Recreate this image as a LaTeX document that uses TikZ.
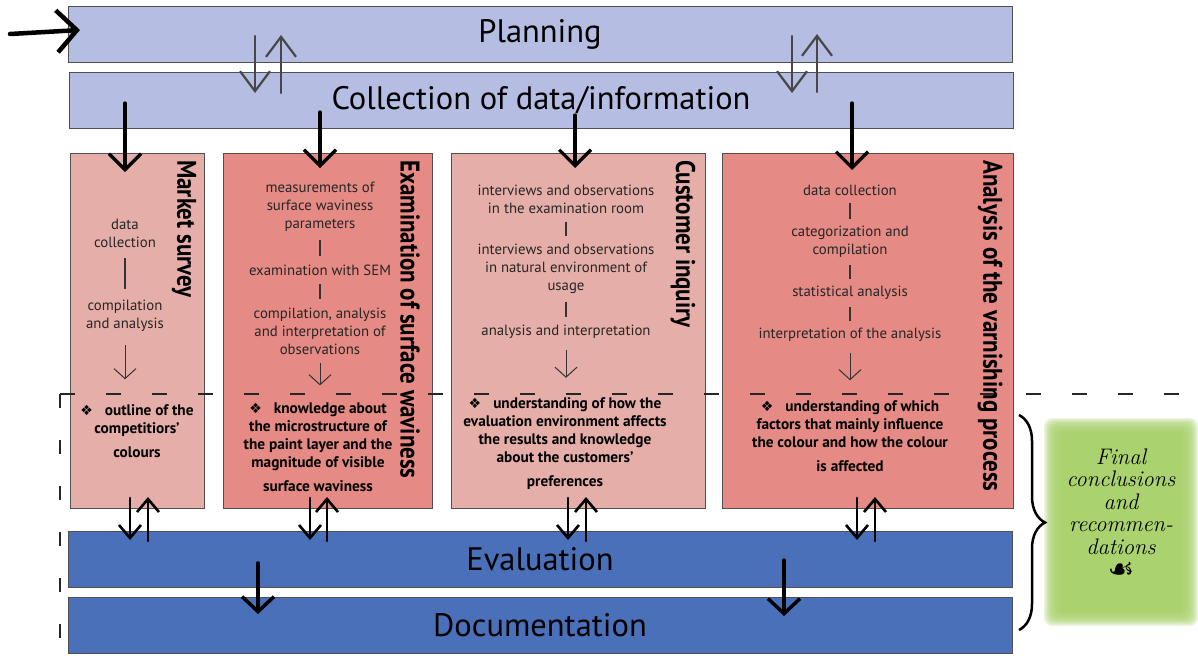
\documentclass[tikz,border=0pt]{standalone}
\usepackage{fontspec}
\setmainfont{PT Sans}
\newfontfamily\condf[FakeStretch=0.85]{PT Sans}
\newfontfamily\djv{DejaVu Sans}
\newfontfamily\lmrf{Latin Modern Roman}
\usetikzlibrary{arrows.meta,decorations.pathreplacing}
\definecolor{lav}{HTML}{B5BDE2}
\definecolor{pinkL}{HTML}{E6AEA8}
\definecolor{pinkD}{HTML}{E58A84}
\definecolor{blueD}{HTML}{4A70B9}
\definecolor{grn}{HTML}{AAD26E}
\definecolor{edge}{HTML}{505050}
\newcommand{\bul}{{\djv\fontsize{14}{14}\selectfont ❖}\hspace{12pt}}
\begin{document}
\begin{tikzpicture}[x=1pt,y=-1pt,
  bar/.style={draw=edge, line width=1pt, minimum width=944pt, minimum height=56pt, inner sep=0pt, font=\fontsize{32.5}{34}\selectfont},
  phase/.style={draw=edge, line width=1pt, minimum height=355pt, inner sep=0pt},
  stepbox/.style={align=center, font=\fontsize{14.8}{18}\selectfont, inner sep=3pt, text=black!85},
  outbox/.style={align=center, font=\fontsize{15.3}{18}\selectfont\bfseries, inner sep=3pt},
  ptitle/.style={rotate=-90, anchor=west, inner sep=0pt, font=\condf\bfseries\fontsize{27}{28}\selectfont},
  link/.style={line width=1.1pt, black!80, shorten <=8pt, shorten >=8pt},
  thinarrow/.style={line width=1pt, black!80, -{Straight Barb[length=10pt,width=22pt]}},
  harrow/.style={line width=3.2pt, black, line cap=round, -{Straight Barb[length=16pt,width=32pt]}},
  garrow/.style={line width=2.2pt, black!72, line cap=round, -{Straight Barb[length=20pt,width=30pt]}},
  parrow/.style={line width=2.6pt, black, line cap=round, -{Straight Barb[length=13pt,width=22pt]}},
  dashh/.style={line width=1.3pt, black!85, dash pattern=on 15pt off 31pt},
  dashv/.style={line width=1.3pt, black!85, dash pattern=on 14pt off 32pt},
]
\useasboundingbox[fill=white] (0,0) rectangle (1198,662);

% bars
\node[bar, fill=lav] (plan) at (540,34) {Planning};
\node[bar, fill=lav] (coll) at (541,100) {Collection of data/information};
\node[bar, fill=blueD] (eval) at (540,559) {Evaluation};
\node[bar, fill=blueD] (doc) at (540,625) {Documentation};

% phase boxes
\node[phase, fill=pinkL, minimum width=134pt] (ms) at (137,330.5) {};
\node[phase, fill=pinkD, minimum width=209pt] (ex) at (327.5,330.5) {};
\node[phase, fill=pinkL, minimum width=254pt] (ci) at (578,330.5) {};
\node[phase, fill=pinkD, minimum width=291pt] (av) at (867.5,330.5) {};

% dashed separator
\draw[dashh] (60,394) -- (1195,394);
\draw[dashv] (60,394) -- (60,655);

% titles
\node[ptitle] (tms) at (184,160) {Market survey};
\node[ptitle] (tex) at (410,160) {Examination of surface waviness};
\node[ptitle] (tci) at (683,160) {Customer inquiry};
\node[ptitle] (tav) at (990,160) {Analysis of the varnishing process};

% market survey
\node[stepbox] (ms1) at (125,233) {data\\collection};
\node[stepbox] (ms2) at (125,316) {compilation\\and analysis};
\node[outbox] (msr) at (137,431) {\bul outline of the\\competitiors'\\[6pt]colours};
\draw[link] (ms1) -- (ms2);
\draw[thinarrow, shorten <=10pt, shorten >=22pt] (ms2.south) -- (ms2.south |- msr.north);

% examination
\node[stepbox] (ex1) at (320,207) {measurements of\\surface waviness\\parameters};
\node[stepbox] (ex2) at (320,270) {examination with SEM};
\node[stepbox] (ex3) at (320,331) {compilation, analysis\\and interpretation of\\observations};
\node[outbox] (exr) at (318,447) {\bul knowledge about\\the microstructure of\\the paint layer and the\\magnitude of visible\\[6pt]surface waviness};
\draw[link, shorten <=5pt, shorten >=5pt] (ex1) -- (ex2);
\draw[link, shorten <=5pt, shorten >=5pt] (ex2) -- (ex3);
\draw[thinarrow, shorten <=5pt, shorten >=14pt] (ex3.south) -- (ex3.south |- exr.north);

% customer inquiry
\node[stepbox] (ci1) at (566,199) {interviews and observations\\in the examination room};
\node[stepbox] (ci2) at (566,269) {interviews and observations\\in natural environment of\\usage};
\node[stepbox] (ci3) at (566,332) {analysis and interpretation};
\node[outbox] (cir) at (565,444) {\bul understanding of how the\\evaluation environment affects\\the results and knowledge\\about the customers'\\[6pt]preferences};
\draw[link, shorten <=5pt, shorten >=5pt] (ci1) -- (ci2);
\draw[link, shorten <=5pt, shorten >=5pt] (ci2) -- (ci3);
\draw[thinarrow, shorten <=8pt, shorten >=17pt] (ci3.south) -- (ci3.south |- cir.north);

% analysis of varnishing
\node[stepbox] (av1) at (850,190) {data collection};
\node[stepbox] (av2) at (850,242) {categorization and\\compilation};
\node[stepbox] (av3) at (850,293) {statistical analysis};
\node[stepbox] (av4) at (850,335) {interpretation of the analysis};
\node[outbox] (avr) at (850,436) {\bul understanding of which\\factors that mainly influence\\the colour and how the colour\\[6pt]is affected};
\draw[link, shorten <=4pt, shorten >=4pt] (av1) -- (av2);
\draw[link, shorten <=4pt, shorten >=4pt] (av2) -- (av3);
\draw[link, shorten <=4pt, shorten >=4pt] (av3) -- (av4);
\draw[thinarrow, shorten <=8pt, shorten >=17pt] (av4.south) -- (av4.south |- avr.north);

% final conclusions box (soft edges)
\foreach \i in {0,...,9}
  \fill[grn, fill opacity=0.22, rounded corners=8pt]
    (1044+1.3*\i, 418+1.3*\i) rectangle (1198-1.3*\i, 626-1.3*\i);
\node[fill=grn, minimum width=122pt, minimum height=180pt, inner sep=0pt] (finbg) at (1121,522) {};
\node[align=center, font=\lmrf\itshape\fontsize{22.5}{22.5}\selectfont, inner sep=0pt] (fin) at (1121,514)
  {Final\\conclusions\\and\\recommen-\\dations\\[3pt]{\djv\upshape\bfseries\fontsize{30}{24}\selectfont ☙}};

% brace
\draw[line width=2.5pt, decorate, decoration={brace, amplitude=26pt, aspect=0.5}]
  (1019,415) -- (1019,630);

% hand drawn arrows
\coordinate (st0) at (10,34);
\coordinate (st1) at (80,30);
\draw[line width=4.5pt, black, line cap=round, -{Straight Barb[length=20pt,width=42pt]}] (st0) -- (st1);

\coordinate (g1a) at (255,36);  \coordinate (g1b) at (255,93);
\coordinate (g2a) at (281,93);  \coordinate (g2b) at (281,35);
\coordinate (g3a) at (792,36);  \coordinate (g3b) at (792,93);
\coordinate (g4a) at (817,92);  \coordinate (g4b) at (817,34);
\draw[garrow] (g1a) -- (g1b);
\draw[garrow] (g2a) -- (g2b);
\draw[garrow] (g3a) -- (g3b);
\draw[garrow] (g4a) -- (g4b);

\coordinate (d1a) at (125,103); \coordinate (d1b) at (125,172);
\coordinate (d2a) at (320,112); \coordinate (d2b) at (320,168);
\coordinate (d3a) at (575,115); \coordinate (d3b) at (575,168);
\coordinate (d4a) at (852,103); \coordinate (d4b) at (852,170);
\draw[harrow] (d1a) -- (d1b);
\draw[harrow] (d2a) -- (d2b);
\draw[harrow] (d3a) -- (d3b);
\draw[harrow] (d4a) -- (d4b);

\foreach \dx/\ux/\n in {130/148/1, 310/327/2, 568/586/3, 857/875/4} {
  \coordinate (p\n a) at (\dx,498); \coordinate (p\n b) at (\dx,540);
  \coordinate (q\n a) at (\ux,541); \coordinate (q\n b) at (\ux,497);
  \draw[parrow] (p\n a) -- (p\n b);
  \draw[parrow] (q\n a) -- (q\n b);
}

\coordinate (e1a) at (258,563); \coordinate (e1b) at (258,614);
\coordinate (e2a) at (784,560); \coordinate (e2b) at (784,616);
\draw[harrow, line width=3.5pt, -{Straight Barb[length=15pt,width=32pt]}] (e1a) -- (e1b);
\draw[harrow, line width=3.5pt, -{Straight Barb[length=15pt,width=32pt]}] (e2a) -- (e2b);
\end{tikzpicture}
\end{document}
